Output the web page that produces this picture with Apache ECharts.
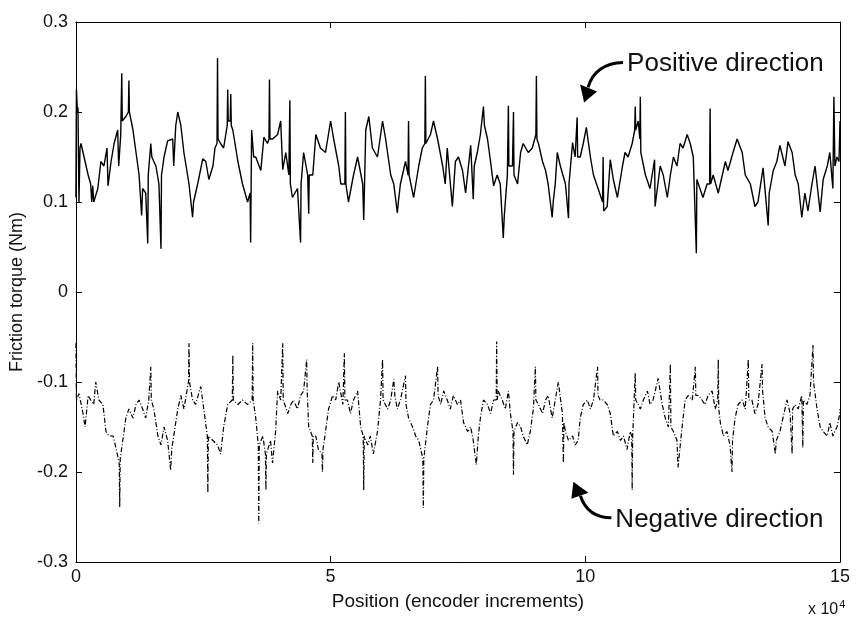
<!DOCTYPE html>
<html>
<head>
<meta charset="utf-8">
<title>Friction torque</title>
<script src="https://cdn.jsdelivr.net/npm/echarts@6/dist/echarts.min.js"></script>
<style>
	html, body { margin: 0; padding: 0; background: #fff; }
	#main { width: 860px; height: 619px; }
</style>
</head>
<body>
<div id="main"></div>
<script>
	// position is in units of 1e4 encoder increments, torque in Nm
	var posPositive = [
		0.00,0.01,0.03,0.04,0.06,0.08,0.10,0.16,0.24,0.29,
		0.31,0.33,0.35,0.43,0.49,0.55,0.61,0.63,0.69,0.75,
		0.82,0.84,0.88,0.90,0.91,0.98,1.03,1.04,1.05,1.12,
		1.18,1.24,1.29,1.31,1.37,1.41,1.42,1.47,1.49,1.57,
		1.63,1.67,1.68,1.73,1.80,1.90,1.92,1.96,2.00,2.06,
		2.12,2.22,2.29,2.31,2.39,2.49,2.55,2.61,2.69,2.73,
		2.77,2.78,2.79,2.84,2.90,2.97,2.98,2.99,3.03,3.04,
		3.05,3.08,3.18,3.27,3.37,3.42,3.43,3.44,3.45,3.49,
		3.53,3.63,3.69,3.76,3.79,3.80,3.81,3.86,3.96,4.02,
		4.06,4.12,4.18,4.20,4.21,4.25,4.35,4.41,4.42,4.47,
		4.55,4.57,4.58,4.65,4.71,4.80,4.90,5.00,5.06,5.16,
		5.20,5.28,5.29,5.30,5.35,5.45,5.53,5.63,5.65,5.69,
		5.75,5.82,5.92,6.02,6.08,6.18,6.24,6.31,6.33,6.37,
		6.47,6.52,6.53,6.54,6.63,6.73,6.80,6.85,6.86,6.87,
		6.96,7.02,7.10,7.20,7.25,7.29,7.39,7.45,7.51,7.59,
		7.65,7.75,7.80,7.82,7.88,7.94,8.00,8.02,8.08,8.14,
		8.20,8.27,8.33,8.39,8.41,8.47,8.49,8.50,8.57,8.59,
		8.60,8.67,8.73,8.78,8.88,8.96,9.03,9.04,9.05,9.08,
		9.16,9.22,9.27,9.35,9.37,9.41,9.45,9.51,9.61,9.67,
		9.68,9.75,9.80,9.84,9.85,9.90,9.96,10.02,10.10,10.16,
		10.25,10.34,10.35,10.36,10.43,10.49,10.55,10.63,10.73,10.78,
		10.84,10.92,10.97,10.98,10.99,11.04,11.07,11.08,11.09,11.18,
		11.27,11.36,11.37,11.47,11.53,11.61,11.67,11.73,11.80,11.86,
		11.92,12.00,12.06,12.12,12.18,12.19,12.22,12.31,12.39,12.44,
		12.45,12.46,12.51,12.61,12.69,12.75,12.80,12.90,12.98,13.08,
		13.14,13.24,13.33,13.39,13.49,13.59,13.61,13.69,13.76,13.82,
		13.92,13.98,14.06,14.12,14.18,14.25,14.31,14.37,14.45,14.51,
		14.61,14.67,14.75,14.80,14.86,14.88,14.90,14.94,14.98,15.00
	];
	var torquePositive = [
		0.105,0.225,0.2,0.205,0.1,0.16,0.165,0.15,0.13,0.12,
		0.1,0.118,0.1,0.115,0.145,0.14,0.16,0.118,0.145,0.165,
		0.18,0.14,0.175,0.243,0.19,0.195,0.2,0.235,0.2,0.18,
		0.155,0.13,0.085,0.115,0.11,0.054,0.13,0.165,0.15,0.14,
		0.12,0.048,0.13,0.15,0.168,0.17,0.14,0.185,0.2,0.185,
		0.155,0.12,0.083,0.1,0.12,0.148,0.145,0.125,0.14,0.16,
		0.165,0.26,0.17,0.165,0.16,0.185,0.225,0.19,0.19,0.22,
		0.185,0.18,0.145,0.12,0.1,0.11,0.055,0.12,0.18,0.15,
		0.15,0.135,0.172,0.165,0.17,0.236,0.17,0.17,0.175,0.19,
		0.136,0.155,0.13,0.213,0.12,0.105,0.115,0.055,0.12,0.155,
		0.13,0.087,0.13,0.13,0.175,0.16,0.155,0.19,0.17,0.14,
		0.12,0.12,0.2,0.12,0.1,0.13,0.15,0.12,0.08,0.18,
		0.195,0.16,0.15,0.19,0.17,0.13,0.12,0.088,0.1,0.12,
		0.145,0.13,0.19,0.13,0.105,0.14,0.16,0.165,0.24,0.165,
		0.175,0.19,0.17,0.14,0.12,0.16,0.095,0.145,0.15,0.135,
		0.11,0.163,0.103,0.14,0.155,0.175,0.206,0.185,0.17,0.145,
		0.118,0.13,0.12,0.06,0.085,0.13,0.207,0.14,0.14,0.2,
		0.13,0.12,0.155,0.165,0.155,0.16,0.175,0.24,0.17,0.165,
		0.145,0.135,0.12,0.083,0.1,0.12,0.155,0.14,0.12,0.082,
		0.12,0.166,0.15,0.194,0.15,0.15,0.165,0.183,0.15,0.13,
		0.115,0.1,0.15,0.09,0.095,0.147,0.125,0.105,0.14,0.155,
		0.15,0.165,0.18,0.206,0.18,0.19,0.17,0.217,0.155,0.13,
		0.115,0.147,0.095,0.14,0.13,0.105,0.13,0.15,0.14,0.165,
		0.16,0.175,0.165,0.15,0.043,0.125,0.12,0.105,0.12,0.12,
		0.204,0.12,0.13,0.11,0.13,0.145,0.135,0.155,0.17,0.155,
		0.13,0.12,0.095,0.1,0.138,0.074,0.11,0.135,0.145,0.163,
		0.14,0.167,0.155,0.13,0.12,0.083,0.11,0.09,0.12,0.14,
		0.089,0.125,0.14,0.155,0.115,0.217,0.14,0.15,0.145,0.19
	];
	var posNegative = [
		0.00,0.01,0.06,0.14,0.18,0.24,0.29,0.35,0.39,0.45,
		0.53,0.59,0.65,0.73,0.78,0.85,0.86,0.87,0.92,0.98,
		1.04,1.12,1.18,1.24,1.31,1.37,1.43,1.47,1.48,1.53,
		1.61,1.67,1.73,1.80,1.86,1.88,1.92,2.00,2.06,2.12,
		2.21,2.22,2.23,2.29,2.35,2.45,2.51,2.58,2.59,2.60,
		2.69,2.78,2.84,2.90,2.98,3.07,3.08,3.09,3.18,3.27,
		3.37,3.46,3.47,3.48,3.53,3.58,3.59,3.60,3.67,3.72,
		3.73,3.74,3.82,3.86,3.92,3.96,4.02,4.05,4.06,4.07,
		4.16,4.22,4.27,4.35,4.41,4.47,4.53,4.54,4.57,4.64,
		4.65,4.66,4.71,4.76,4.83,4.84,4.85,4.90,4.96,5.04,
		5.10,5.16,5.24,5.27,5.28,5.33,5.39,5.45,5.53,5.59,
		5.64,5.65,5.66,5.73,5.78,5.84,5.92,5.98,6.02,6.03,
		6.12,6.18,6.24,6.26,6.31,6.37,6.47,6.48,6.53,6.61,
		6.67,6.73,6.81,6.82,6.83,6.90,6.96,7.02,7.10,7.11,
		7.16,7.22,7.29,7.35,7.41,7.49,7.55,7.61,7.69,7.75,
		7.80,7.86,7.90,7.94,8.00,8.08,8.14,8.20,8.25,8.26,
		8.27,8.29,8.37,8.43,8.49,8.53,8.58,8.59,8.60,8.67,
		8.73,8.78,8.86,8.92,8.98,9.02,9.03,9.08,9.16,9.22,
		9.27,9.35,9.41,9.47,9.55,9.57,9.58,9.61,9.67,9.75,
		9.80,9.86,9.90,9.96,10.04,10.10,10.16,10.24,10.25,10.29,
		10.35,10.43,10.49,10.55,10.63,10.69,10.75,10.82,10.88,10.91,
		10.92,10.93,10.98,10.99,11.04,11.08,11.14,11.22,11.27,11.33,
		11.43,11.51,11.57,11.63,11.67,11.68,11.73,11.80,11.82,11.90,
		11.96,12.02,12.10,12.16,12.17,12.22,12.29,12.35,12.41,12.49,
		12.55,12.60,12.61,12.62,12.65,12.71,12.78,12.84,12.88,12.89,
		12.94,13.00,13.08,13.14,13.20,13.21,13.27,13.33,13.39,13.47,
		13.48,13.53,13.59,13.67,13.73,13.75,13.82,13.88,13.96,14.02,
		14.06,14.07,14.12,14.18,14.25,14.27,14.28,14.35,14.41,14.47,
		14.48,14.55,14.61,14.67,14.75,14.80,14.86,14.94,14.98,15.00
	];
	var torqueNegative = [
		-0.057,-0.12,-0.113,-0.135,-0.15,-0.115,-0.12,-0.125,-0.1,-0.12,
		-0.125,-0.155,-0.16,-0.16,-0.172,-0.19,-0.239,-0.185,-0.165,-0.14,
		-0.13,-0.14,-0.125,-0.12,-0.13,-0.14,-0.12,-0.083,-0.12,-0.13,
		-0.16,-0.17,-0.15,-0.165,-0.198,-0.175,-0.16,-0.13,-0.115,-0.13,
		-0.1,-0.057,-0.1,-0.12,-0.125,-0.105,-0.13,-0.16,-0.223,-0.16,
		-0.165,-0.17,-0.18,-0.15,-0.125,-0.12,-0.07,-0.12,-0.125,-0.12,
		-0.125,-0.12,-0.057,-0.12,-0.14,-0.17,-0.257,-0.17,-0.16,-0.18,
		-0.22,-0.18,-0.165,-0.19,-0.155,-0.11,-0.12,-0.12,-0.057,-0.12,
		-0.135,-0.125,-0.12,-0.13,-0.115,-0.11,-0.075,-0.11,-0.15,-0.16,
		-0.19,-0.16,-0.16,-0.175,-0.18,-0.2,-0.175,-0.155,-0.13,-0.115,
		-0.12,-0.1,-0.125,-0.068,-0.12,-0.12,-0.135,-0.12,-0.11,-0.15,
		-0.16,-0.22,-0.16,-0.17,-0.16,-0.18,-0.155,-0.12,-0.075,-0.12,
		-0.13,-0.12,-0.097,-0.115,-0.13,-0.12,-0.093,-0.125,-0.14,-0.15,
		-0.16,-0.165,-0.185,-0.24,-0.185,-0.15,-0.125,-0.12,-0.083,-0.115,
		-0.125,-0.11,-0.12,-0.13,-0.115,-0.125,-0.12,-0.145,-0.155,-0.15,
		-0.165,-0.192,-0.16,-0.14,-0.12,-0.125,-0.135,-0.12,-0.12,-0.055,
		-0.12,-0.11,-0.12,-0.13,-0.11,-0.135,-0.155,-0.203,-0.155,-0.145,
		-0.15,-0.16,-0.17,-0.155,-0.13,-0.083,-0.12,-0.125,-0.135,-0.12,
		-0.115,-0.14,-0.12,-0.1,-0.135,-0.19,-0.145,-0.155,-0.165,-0.16,
		-0.17,-0.165,-0.14,-0.125,-0.12,-0.13,-0.12,-0.083,-0.115,-0.12,
		-0.12,-0.125,-0.135,-0.16,-0.155,-0.165,-0.16,-0.175,-0.155,-0.16,
		-0.22,-0.16,-0.09,-0.12,-0.125,-0.13,-0.12,-0.11,-0.125,-0.12,
		-0.096,-0.125,-0.14,-0.15,-0.08,-0.15,-0.155,-0.165,-0.195,-0.15,
		-0.12,-0.115,-0.12,-0.083,-0.115,-0.115,-0.12,-0.125,-0.115,-0.11,
		-0.13,-0.12,-0.075,-0.13,-0.145,-0.16,-0.155,-0.17,-0.2,-0.165,
		-0.14,-0.125,-0.12,-0.13,-0.075,-0.12,-0.12,-0.135,-0.125,-0.08,
		-0.11,-0.14,-0.15,-0.155,-0.18,-0.165,-0.155,-0.14,-0.12,-0.135,
		-0.18,-0.13,-0.125,-0.13,-0.115,-0.173,-0.12,-0.125,-0.115,-0.059,
		-0.1,-0.13,-0.15,-0.155,-0.16,-0.145,-0.16,-0.15,-0.14,-0.13
	];

	var FONT = "'Liberation Sans', Arial, sans-serif";

	function pairs(xs, ys) {
		return xs.map(function(x, i) { return [x, ys[i]]; });
	}

	function yLabel(v) {
		if (Math.abs(v) < 1e-9) return '0';
		return String(+v.toFixed(1));
	}

	// shared axis look, matlab style box with inward ticks
	var boxLine = { show: true, onZero: false, lineStyle: { color: '#000', width: 1 } };
	var inTick = { show: true, inside: true, length: 6, lineStyle: { color: '#000', width: 1 } };

	var myChart = echarts.init(document.getElementById('main'));
	var option = {
		animation: false,
		backgroundColor: '#fff',
		grid: { left: 75, right: 20, top: 22, bottom: 57 },
		xAxis: [{
			type: 'value', min: 0, max: 15, interval: 5, position: 'bottom',
			axisLine: boxLine, axisTick: inTick, splitLine: { show: false },
			axisLabel: { color: '#111', fontSize: 18, fontFamily: FONT, margin: 6 },
			name: 'Position (encoder increments)', nameLocation: 'middle', nameGap: 30,
			nameTextStyle: { color: '#111', fontSize: 19, fontFamily: FONT }
		}, {
			type: 'value', min: 0, max: 15, interval: 5, position: 'top',
			axisLine: boxLine, axisTick: inTick, splitLine: { show: false },
			axisLabel: { show: false }
		}],
		yAxis: [{
			type: 'value', min: -0.3, max: 0.3, interval: 0.1, position: 'left',
			axisLine: boxLine, axisTick: inTick, splitLine: { show: false },
			axisLabel: { color: '#111', fontSize: 18, fontFamily: FONT, margin: 8, formatter: yLabel },
			name: 'Friction torque (Nm)', nameLocation: 'middle', nameGap: 45,
			nameTextStyle: { color: '#111', fontSize: 18, fontFamily: FONT }
		}, {
			type: 'value', min: -0.3, max: 0.3, interval: 0.1, position: 'right',
			axisLine: boxLine, axisTick: inTick, splitLine: { show: false },
			axisLabel: { show: false }
		}],
		series: [{
			name: 'Positive direction',
			type: 'line',
			data: pairs(posPositive, torquePositive),
			showSymbol: false,
			lineStyle: { color: '#000', width: 1.4 }
		}, {
			name: 'Negative direction',
			type: 'line',
			data: pairs(posNegative, torqueNegative),
			showSymbol: false,
			lineStyle: { color: '#000', width: 1.2, type: [5, 2, 1, 2] }
		}]
	};
	myChart.setOption(option);

	// annotations, anchored on data coordinates
	var pAnchor = myChart.convertToPixel({ gridIndex: 0 }, [10.82, 0.254]);
	var nAnchor = myChart.convertToPixel({ gridIndex: 0 }, [10.59, -0.253]);
	var corner = myChart.convertToPixel({ gridIndex: 0 }, [15, -0.3]);

	function arrowGroup(anchor, label, curve, head) {
		return {
			type: 'group', x: anchor[0], y: anchor[1],
			children: [{
				type: 'text', x: 0, y: 0,
				style: { text: label, fill: '#111', font: '26px ' + FONT, textVerticalAlign: 'middle' }
			}, {
				type: 'bezierCurve',
				shape: curve,
				style: { stroke: '#000', lineWidth: 3, fill: null }
			}, {
				type: 'polygon',
				shape: { points: head },
				style: { fill: '#000' }
			}]
		};
	}

	myChart.setOption({
		graphic: [
			arrowGroup(pAnchor, 'Positive direction',
				{ x1: -4, y1: -1, cpx1: -22, cpy1: -1, cpx2: -35, cpy2: 9, x2: -39, y2: 24 },
				[[-47, 21], [-30, 28], [-43, 39]]),
			arrowGroup(nAnchor, 'Negative direction',
				{ x1: -4, y1: -2, cpx1: -23, cpy1: -2, cpx2: -31, cpy2: -12, x2: -35, y2: -24 },
				[[-44, -21], [-27, -27], [-42, -38]]),
			{
				type: 'text', x: corner[0] - 32, y: corner[1] + 37,
				style: {
					text: 'x 10{s|4}', fill: '#111', font: '16px ' + FONT,
					rich: { s: { fontSize: 11, fontFamily: FONT, verticalAlign: 'top', padding: [0, 0, 10, 1] } }
				}
			}
		]
	});

	window.onresize = function() {
		myChart.resize();
	};
</script>
</body>
</html>
